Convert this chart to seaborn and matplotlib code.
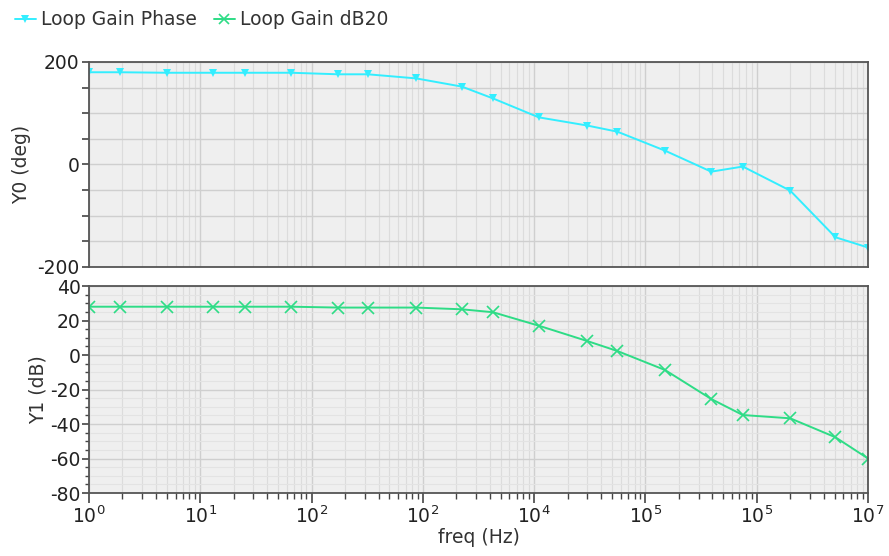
import numpy as np
import pandas as pd
import matplotlib
matplotlib.use("Agg")
import matplotlib.pyplot as plt
import seaborn as sns
from matplotlib.ticker import FixedLocator, FixedFormatter, MultipleLocator, LogLocator, NullFormatter
from matplotlib.lines import Line2D

# ---- data ----
freq = [1, 1.9, 5, 13, 25, 66, 173, 320, 870, 2240, 4260, 1.1e4, 3.0e4, 5.6e4,
        1.5e5, 3.9e5, 7.5e5, 2.0e6, 5.1e6, 1.0e7]
phase_deg = [180, 180, 179, 179, 179, 179, 176, 176, 168, 152, 129, 92, 76, 64,
             27, -14, -4, -51, -142, -162]
gain_db = [28, 28, 28, 28, 28, 28, 27.5, 27.5, 27.5, 26.5, 24.8, 17, 8.1, 2.3,
           -8.7, -25.5, -34.8, -36.7, -47.7, -60]
series_names = ["Loop Gain Phase", "Loop Gain dB20"]
xtick_vals = [1e0, 1e1, 1e2, 1e3, 1e4, 1e5, 1e6, 1e7]
xtick_labels = ["$10^{0}$", "$10^{1}$", "$10^{2}$", "$10^{2}$", "$10^{4}$",
                "$10^{5}$", "$10^{5}$", "$10^{7}$"]

df = pd.DataFrame({"freq": freq, "phase": phase_deg, "gain": gain_db})

sns.set_theme(style="white")
plt.rcParams["font.family"] = ["DejaVu Sans"]
plt.rcParams["axes.unicode_minus"] = False

cyan = "#33eeff"
green = "#2edc86"
bg = "#efefef"

fig = plt.figure(figsize=(8.89, 5.56), dpi=100)
ax1 = fig.add_axes([0.1001, 0.5198, 0.8763, 0.3687])
ax2 = fig.add_axes([0.1001, 0.1133, 0.8763, 0.3723])

sns.lineplot(data=df, x="freq", y="phase", ax=ax1, color=cyan, marker="v",
             markersize=5.5, markeredgewidth=0, markerfacecolor=cyan, linewidth=1.4)
sns.lineplot(data=df, x="freq", y="gain", ax=ax2, color=green, marker="x",
             markersize=8, markeredgewidth=1.2, markeredgecolor=green, linewidth=1.4)

for ax in (ax1, ax2):
    ax.set_xscale("log")
    ax.set_xlim(1, 1e7)
    ax.set_facecolor(bg)
    ax.xaxis.set_major_locator(FixedLocator(xtick_vals))
    ax.xaxis.set_minor_locator(LogLocator(base=10, subs=np.arange(2, 10), numticks=100))
    ax.xaxis.set_minor_formatter(NullFormatter())
    ax.grid(True, which="major", axis="both", color="#cfcfcf", linewidth=1.0)
    ax.grid(True, which="minor", axis="x", color="#dcdcdc", linewidth=0.8)
    for s in ax.spines.values():
        s.set_color("#555555")
        s.set_linewidth(1.3)
    ax.set_axisbelow(True)

fs = 13.5

# top panel
ax1.set_ylim(-200, 200)
ax1.yaxis.set_major_locator(FixedLocator([-200, -150, -100, -50, 0, 50, 100, 150, 200]))
ax1.yaxis.set_major_formatter(FixedFormatter(["-200", "", "", "", "0", "", "", "", "200"]))
ax1.tick_params(axis="y", which="major", length=5, width=1.2, color="#444444",
                labelsize=fs, labelcolor="#222222", left=True, pad=2)
ax1.tick_params(axis="x", which="both", bottom=False, labelbottom=False)
ax1.set_xlabel("")
ax1.set_ylabel("Y0 (deg)", fontsize=fs, color="#333333", labelpad=4)

# bottom panel
ax2.set_ylim(-80, 40)
ax2.yaxis.set_major_locator(MultipleLocator(20))
ax2.yaxis.set_minor_locator(MultipleLocator(5))
ax2.grid(True, which="minor", axis="y", color="#e3e3e3", linewidth=0.8)
ax2.tick_params(axis="y", which="major", length=5, width=1.2, color="#444444",
                labelsize=fs, labelcolor="#222222", left=True, pad=1)
ax2.tick_params(axis="y", which="minor", length=3, width=1.0, color="#444444", left=True)
ax2.xaxis.set_major_formatter(FixedFormatter(xtick_labels))
ax2.tick_params(axis="x", which="major", length=7, width=1.2, color="#444444",
                labelsize=fs, labelcolor="#222222", bottom=True, pad=2)
ax2.tick_params(axis="x", which="minor", length=4, width=1.0, color="#444444", bottom=True)
ax2.set_xlabel("freq (Hz)", fontsize=fs, color="#333333", labelpad=1)
ax2.set_ylabel("Y1 (dB)", fontsize=fs, color="#333333", labelpad=2)

handles = [Line2D([], [], color=cyan, marker="v", markersize=6, markeredgewidth=0, linewidth=1.4),
           Line2D([], [], color=green, marker="x", markersize=7, markeredgewidth=1.2, linewidth=1.4)]
fig.legend(handles, series_names, loc="upper left", bbox_to_anchor=(-0.002, 1.012), ncol=2,
           frameon=False, fontsize=13.5, handlelength=1.1, handletextpad=0.3,
           columnspacing=0.9, labelcolor="#333333")

fig.savefig("out.png", dpi=100, facecolor="white")
